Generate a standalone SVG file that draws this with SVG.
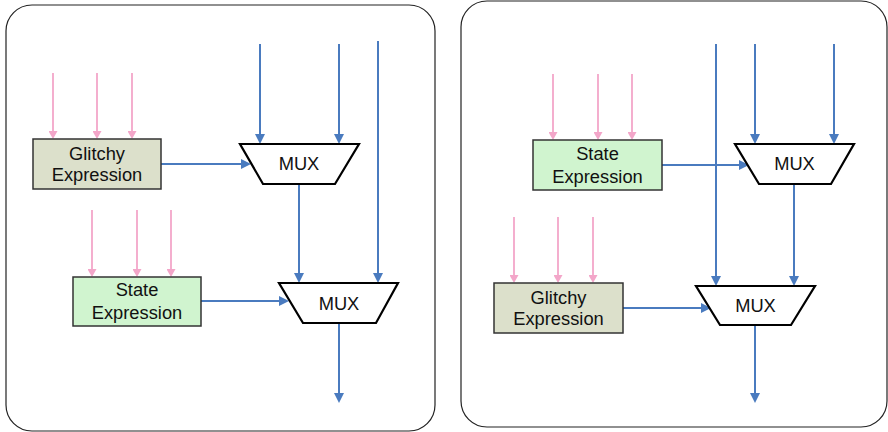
<svg xmlns="http://www.w3.org/2000/svg" width="888" height="432" viewBox="0 0 888 432">
  <defs>
    <style>
      .panel { fill: #ffffff; stroke: #222222; stroke-width: 1.2; }
      .box { stroke: #333333; stroke-width: 1.5; }
      .glitchy { fill: #dce0cb; }
      .state { fill: #d0f4cf; }
      .mux { fill: #ffffff; stroke: #000000; stroke-width: 2.2; stroke-linejoin: miter; }
      .lbl { font-family: "Liberation Sans", Arial, Helvetica, sans-serif; font-size: 18.3px; fill: #111111; text-anchor: middle; }
      .blue { stroke: #4a7bbf; stroke-width: 2; fill: none; }
      .blue-in { marker-end: url(#ah-blue); }
      .pink { stroke: #f3a6c9; stroke-width: 1.8; fill: none; marker-end: url(#ah-pink); }
    </style>
    <marker id="ah-blue" markerUnits="userSpaceOnUse" viewBox="0 0 10 10" markerWidth="10" markerHeight="10" refX="4" refY="5" orient="auto">
      <path d="M0,0 L10,5 L0,10 z" fill="#4a7bbf"/>
    </marker>
    <marker id="ah-pink" markerUnits="userSpaceOnUse" viewBox="0 0 8 9" markerWidth="8" markerHeight="9" refX="3" refY="4.5" orient="auto">
      <path d="M0,0 L8,4.5 L0,9 z" fill="#f3a6c9"/>
    </marker>
  </defs>

  <!-- panel frames -->
  <rect class="panel" x="6" y="5" width="429" height="426" rx="26"/>
  <rect class="panel" x="461" y="1" width="426" height="426" rx="26"/>

  <!-- connectors -->
  <g id="connectors">
    <!-- left panel: pink inputs -->
    <line class="pink" x1="53" y1="73" x2="53" y2="134"/>
    <line class="pink" x1="97" y1="73" x2="97" y2="134"/>
    <line class="pink" x1="132" y1="73" x2="132" y2="134"/>
    <line class="pink" x1="92" y1="210" x2="92" y2="272"/>
    <line class="pink" x1="137" y1="210" x2="137" y2="272"/>
    <line class="pink" x1="171" y1="210" x2="171" y2="272"/>
    <!-- left panel: blue signals -->
    <line class="blue blue-in" x1="260" y1="44" x2="260" y2="138"/>
    <line class="blue blue-in" x1="339" y1="44" x2="339" y2="138"/>
    <line class="blue blue-in" x1="378" y1="41" x2="378" y2="277"/>
    <line class="blue blue-in" x1="161" y1="164" x2="245" y2="164"/>
    <line class="blue blue-in" x1="299" y1="184" x2="299" y2="277"/>
    <line class="blue blue-in" x1="201" y1="301" x2="283" y2="301"/>
    <line class="blue blue-in" x1="339" y1="323" x2="339" y2="397"/>

    <!-- right panel: pink inputs -->
    <line class="pink" x1="553" y1="74" x2="553" y2="135"/>
    <line class="pink" x1="598" y1="74" x2="598" y2="135"/>
    <line class="pink" x1="632" y1="74" x2="632" y2="135"/>
    <line class="pink" x1="514" y1="217" x2="514" y2="278"/>
    <line class="pink" x1="558" y1="217" x2="558" y2="278"/>
    <line class="pink" x1="593" y1="217" x2="593" y2="278"/>
    <!-- right panel: blue signals -->
    <line class="blue blue-in" x1="716" y1="44" x2="716" y2="280"/>
    <line class="blue blue-in" x1="755" y1="44" x2="755" y2="138"/>
    <line class="blue blue-in" x1="834" y1="44" x2="834" y2="138"/>
    <line class="blue blue-in" x1="662" y1="165" x2="743" y2="165"/>
    <line class="blue blue-in" x1="794" y1="184" x2="794" y2="280"/>
    <line class="blue blue-in" x1="623" y1="308" x2="705" y2="308"/>
    <line class="blue blue-in" x1="755" y1="325" x2="755" y2="397"/>
  </g>

  <!-- left panel nodes -->
  <g id="glitchy-left">
    <rect class="box glitchy" x="33" y="139" width="128" height="50"/>
    <text class="lbl" x="97" y="159.5">Glitchy</text>
    <text class="lbl" x="97" y="181">Expression</text>
  </g>
  <g id="mux-left-1">
    <polygon class="mux" points="240,144 359,144 335,184 263,184"/>
    <text class="lbl" x="299" y="170">MUX</text>
  </g>
  <g id="state-left">
    <rect class="box state" x="73" y="277" width="128" height="49"/>
    <text class="lbl" x="137" y="296">State</text>
    <text class="lbl" x="137" y="318.5">Expression</text>
  </g>
  <g id="mux-left-2">
    <polygon class="mux" points="279,283 398,283 376,323 303,323"/>
    <text class="lbl" x="339" y="309.5">MUX</text>
  </g>

  <!-- right panel nodes -->
  <g id="state-right">
    <rect class="box state" x="533" y="140" width="129" height="50"/>
    <text class="lbl" x="597.5" y="160">State</text>
    <text class="lbl" x="597.5" y="182.5">Expression</text>
  </g>
  <g id="mux-right-1">
    <polygon class="mux" points="735,144 854,144 831,184 759,184"/>
    <text class="lbl" x="794.5" y="170">MUX</text>
  </g>
  <g id="glitchy-right">
    <rect class="box glitchy" x="494" y="283" width="129" height="50"/>
    <text class="lbl" x="558.5" y="303.5">Glitchy</text>
    <text class="lbl" x="558.5" y="325">Expression</text>
  </g>
  <g id="mux-right-2">
    <polygon class="mux" points="696,286 815,286 791,325 720,325"/>
    <text class="lbl" x="755.5" y="312">MUX</text>
  </g>
</svg>
